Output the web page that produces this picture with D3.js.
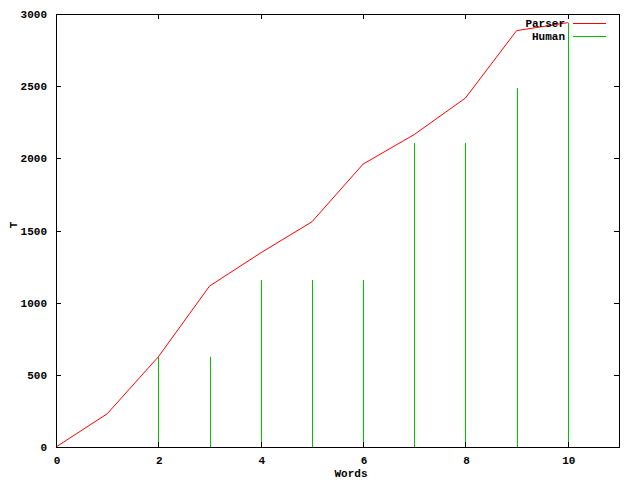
<!DOCTYPE html>
<html><head><meta charset="utf-8">
<script src="https://cdn.jsdelivr.net/npm/d3@7"></script>
<style>body{margin:0;background:#fff}svg{display:block}text{font-family:"Liberation Mono","DejaVu Sans Mono",monospace;font-weight:bold;font-size:11px;fill:#000}</style>
</head><body>
<script>
const words = [0,1,2,3,4,5,6,7,8,9,10];
const parser = [0,230,625,1115,1345,1560,1960,2165,2418,2885,2940];
const humanWords = [2,3,4,5,6,7,8,9,10];
const human = [625,625,1157,1157,1157,2106,2106,2486,2940];
const xTicks = [0,2,4,6,8,10];
const yTicks = [0,500,1000,1500,2000,2500,3000];

const W=640,H=480;
const L=56,R=619,T=14,B=447;
const svg=d3.select("body").append("svg").attr("width",W).attr("height",H);
const x=d3.scaleLinear().domain([0,11]).range([L,R]);
const y=d3.scaleLinear().domain([0,3000]).range([B,T]);
const tl=5;

// impulses
svg.append("g").selectAll("line").data(humanWords).join("line")
 .attr("x1",(d)=>Math.round(x(d))+0.5).attr("x2",(d)=>Math.round(x(d))+0.5)
 .attr("y1",y(0)).attr("y2",(d,i)=>y(human[i]))
 .attr("stroke","#00c000").attr("stroke-width",1);

// parser line
svg.append("path").datum(words.map((w,i)=>[w,parser[i]]))
 .attr("d",d3.line().x(d=>x(d[0])).y(d=>y(d[1])))
 .attr("fill","none").attr("stroke","#ff0000").attr("stroke-width",1);

// border
svg.append("rect").attr("x",L+0.5).attr("y",T+0.5).attr("width",R-L).attr("height",B-T)
 .attr("fill","none").attr("stroke","#000").attr("stroke-width",1);

// ticks
const g=svg.append("g").attr("stroke","#000").attr("stroke-width",1);
xTicks.forEach(t=>{const px=Math.round(x(t))+0.5;
 g.append("line").attr("x1",px).attr("x2",px).attr("y1",B).attr("y2",B-tl);
 g.append("line").attr("x1",px).attr("x2",px).attr("y1",T).attr("y2",T+tl);});
yTicks.forEach(t=>{const py=Math.round(y(t))+0.5;
 g.append("line").attr("x1",L).attr("x2",L+tl).attr("y1",py).attr("y2",py);
 g.append("line").attr("x1",R).attr("x2",R-tl).attr("y1",py).attr("y2",py);});

// tick labels
svg.append("g").selectAll("text").data(xTicks).join("text")
 .attr("x",d=>x(d)+1).attr("y",B+17).attr("text-anchor","middle").text(d=>d);
svg.append("g").selectAll("text").data(yTicks).join("text")
 .attr("x",47).attr("y",d=>y(d)+4).attr("text-anchor","end").text(d=>d);

// axis labels
svg.append("text").attr("x",351).attr("y",477).attr("text-anchor","middle").text("Words");
svg.append("text").attr("transform","translate(17,225) rotate(-90)").attr("text-anchor","middle").text("T");

// legend
const leg=[["Parser","#ff0000",23],["Human","#00c000",36]];
leg.forEach(([n,c,yy])=>{
 svg.append("text").attr("x",565).attr("y",yy+4).attr("text-anchor","end").text(n);
 svg.append("line").attr("x1",573).attr("x2",606).attr("y1",yy+0.5).attr("y2",yy+0.5).attr("stroke",c);
});
</script>
</body></html>
